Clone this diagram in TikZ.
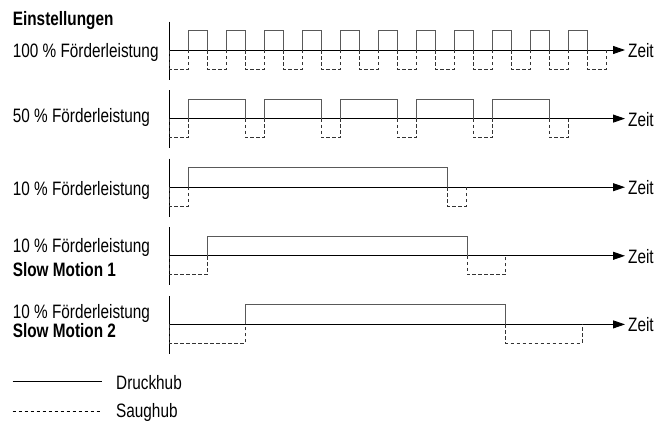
\documentclass[tikz,border=0pt]{standalone}
\usepackage{fontspec}
\setmainfont{Liberation Sans}[FakeStretch=0.79]
\usetikzlibrary{arrows.meta}

\tikzset{
    achse/.style={black, line width=0.9pt},
    druck/.style={black!65, line width=0.9pt},
    saug/.style={black!80, line width=0.9pt, dash pattern=on 3.5pt off 2.5pt},
    lbl/.style={anchor=base west, inner sep=0pt, font=\fontsize{19.4}{21}\selectfont},
}

\begin{document}
\begin{tikzpicture}[x=1pt, y=-1pt]
    % Define the layout
    \def\xnull{169}
    \def\xend{625}
    \def\hoch{19.5}
    \def\tief{19}

    \useasboundingbox (0,0) rectangle (667,421);

    % Function to draw the axes of one row
    \newcommand{\drawachsen}[2]{
        \draw[achse] (\xnull, #2-28.5) -- (\xnull, #2+29.5);
        \node[lbl] (zeit#1) at (628, #2+7.5) {Zeit};
        \draw[achse, -{Triangle[length=12pt, width=8pt]}] (\xnull, #2) -- (\xend, #2);
    }
    % Function to draw a suction stroke
    \newcommand{\drawsaug}[3]{
        \draw[saug] (#2, #1) -- (#2, #1+\tief) -- (#3, #1+\tief) -- (#3, #1);
    }
    % Function to draw a pressure stroke
    \newcommand{\drawdruck}[3]{
        \draw[druck] (#2, #1) -- (#2, #1-\hoch) -- (#3, #1-\hoch) -- (#3, #1);
    }

    % Title
    \node[lbl, font=\fontsize{19.4}{21}\selectfont\bfseries] (titel) at (12.7, 25.5) {Einstellungen};

    % 100 % Förderleistung
    \drawachsen{a}{50}
    \foreach \s in {0,...,10} {
        \drawsaug{50}{169+38*\s}{188+38*\s}
        \drawdruck{50}{188+38*\s}{207+38*\s}
    }
    \drawsaug{50}{587}{606}
    \node[lbl] (labela) at (12.7, 57) {100 \% Förderleistung};

    % 50 % Förderleistung
    \drawachsen{b}{118.6}
    \foreach \s in {0,...,4} {
        \drawsaug{118.6}{169+76*\s}{188+76*\s}
        \drawdruck{118.6}{188+76*\s}{245+76*\s}
    }
    \drawsaug{118.6}{549}{568}
    \node[lbl] (labelb) at (12.7, 122.5) {50 \% Förderleistung};

    % 10 % Förderleistung
    \drawachsen{c}{187.2}
    \drawsaug{187.2}{169}{188}
    \drawdruck{187.2}{188}{447}
    \drawsaug{187.2}{447}{466}
    \node[lbl] (labelc) at (12.7, 195) {10 \% Förderleistung};

    % Slow Motion 1
    \drawachsen{d}{255.8}
    \drawsaug{255.8}{169}{207}
    \drawdruck{255.8}{207}{467}
    \drawsaug{255.8}{467}{505.5}
    \node[lbl] (labeld) at (12.7, 252.5) {10 \% Förderleistung};
    \node[lbl, font=\fontsize{19.4}{21}\selectfont\bfseries] (slowa) at (12.7, 276) {Slow Motion 1};

    % Slow Motion 2
    \drawachsen{e}{324.4}
    \drawsaug{324.4}{169}{245}
    \drawdruck{324.4}{245}{505.5}
    \drawsaug{324.4}{505.5}{582}
    \node[lbl] (labele) at (12.7, 318) {10 \% Förderleistung};
    \node[lbl, font=\fontsize{19.4}{21}\selectfont\bfseries] (slowb) at (12.7, 337.5) {Slow Motion 2};

    % Legend
    \node[lbl] (druckhub) at (116, 389.5) {Druckhub};
    \node[lbl] (saughub) at (116, 417) {Saughub};
    \draw[black, line width=0.9pt] (12.7, 381) -- (101.7, 381);
    \draw[saug, black] (12.7, 411) -- (101.7, 411);
\end{tikzpicture}
\end{document}
